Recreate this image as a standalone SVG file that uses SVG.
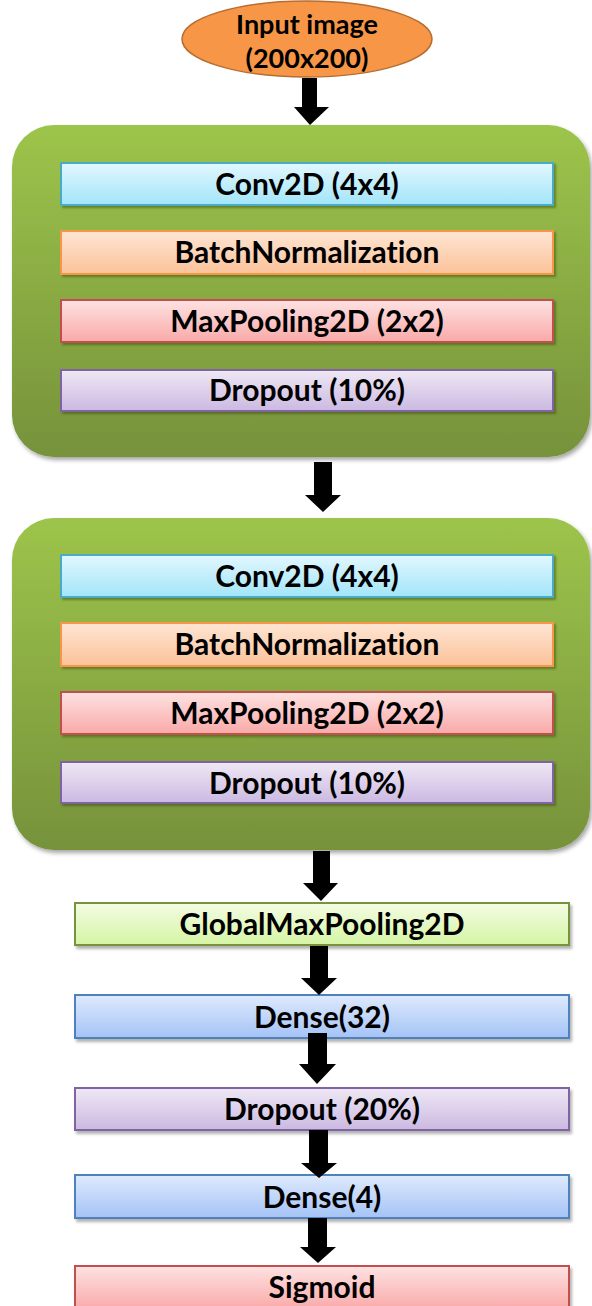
<svg xmlns="http://www.w3.org/2000/svg" width="592" height="1306" viewBox="0 0 592 1306">
<defs>
<linearGradient id="gGreen" x1="0" y1="0" x2="0" y2="1"><stop offset="0" stop-color="#9dc44b"/><stop offset="1" stop-color="#76923b"/></linearGradient>
<linearGradient id="gCyan" x1="0" y1="0" x2="0" y2="1"><stop offset="0" stop-color="#e2f7fe"/><stop offset="1" stop-color="#a2e5f9"/></linearGradient>
<linearGradient id="gOrange" x1="0" y1="0" x2="0" y2="1"><stop offset="0" stop-color="#fee5d3"/><stop offset="1" stop-color="#fcc29a"/></linearGradient>
<linearGradient id="gRed" x1="0" y1="0" x2="0" y2="1"><stop offset="0" stop-color="#fee2e2"/><stop offset="1" stop-color="#f9a9a8"/></linearGradient>
<linearGradient id="gPurple" x1="0" y1="0" x2="0" y2="1"><stop offset="0" stop-color="#efe8f5"/><stop offset="1" stop-color="#cbb9e1"/></linearGradient>
<linearGradient id="gLime" x1="0" y1="0" x2="0" y2="1"><stop offset="0" stop-color="#f3fce3"/><stop offset="1" stop-color="#d5f5a4"/></linearGradient>
<linearGradient id="gBlue" x1="0" y1="0" x2="0" y2="1"><stop offset="0" stop-color="#dfeafd"/><stop offset="1" stop-color="#a4c3f6"/></linearGradient>
<filter id="shOuter" x="-5%" y="-5%" width="112%" height="112%"><feDropShadow dx="2" dy="3" stdDeviation="2" flood-color="#000" flood-opacity="0.35"/></filter>
<filter id="shInner" x="-5%" y="-20%" width="110%" height="150%"><feDropShadow dx="2" dy="2" stdDeviation="1.2" flood-color="#2a3a10" flood-opacity="0.45"/></filter>
<filter id="shBox" x="-5%" y="-20%" width="110%" height="150%"><feDropShadow dx="2" dy="3" stdDeviation="1.5" flood-color="#000" flood-opacity="0.3"/></filter>
</defs>
<style>
text{font-family:Lato,"Liberation Sans",sans-serif;font-weight:bold;font-size:30px;fill:#000;text-anchor:middle;font-variant-ligatures:none}
.inp{font-size:27px}
.box{stroke-width:2}
.cyan{fill:url(#gCyan);stroke:#4aacc6}
.orange{fill:url(#gOrange);stroke:#f79646}
.red{fill:url(#gRed);stroke:#c0504d}
.purple{fill:url(#gPurple);stroke:#8064a2}
.lime{fill:url(#gLime);stroke:#77933c}
.blue{fill:url(#gBlue);stroke:#4f81bd}
.arrow{fill:#000}
</style>
<g id="input">
<ellipse cx="307" cy="39" rx="125" ry="38" fill="#f79646" stroke="#b66d31" stroke-width="1.5"/>
<text class="inp" x="307" y="34">Input image</text>
<text class="inp" x="307" y="68">(200x200)</text>
</g>
<g id="block1">
<rect x="12" y="125" width="578" height="332" rx="42" fill="url(#gGreen)" filter="url(#shOuter)"/>
<g id="b1_conv"><rect class="box cyan" x="61" y="163" width="492" height="42" filter="url(#shInner)"/><text x="307" y="195">Conv2D (4x4)</text></g>
<g id="b1_bn"><rect class="box orange" x="61" y="231" width="492" height="43" filter="url(#shInner)"/><text x="307" y="263">BatchNormalization</text></g>
<g id="b1_pool"><rect class="box red" x="61" y="300" width="492" height="42" filter="url(#shInner)"/><text x="307" y="332">MaxPooling2D (2x2)</text></g>
<g id="b1_drop"><rect class="box purple" x="61" y="370" width="492" height="41" filter="url(#shInner)"/><text x="307" y="401">Dropout (10%)</text></g>
</g>
<g id="block2">
<rect x="12" y="518" width="578" height="332" rx="42" fill="url(#gGreen)" filter="url(#shOuter)"/>
<g id="b2_conv"><rect class="box cyan" x="61" y="555" width="492" height="42" filter="url(#shInner)"/><text x="307" y="587">Conv2D (4x4)</text></g>
<g id="b2_bn"><rect class="box orange" x="61" y="623" width="492" height="43" filter="url(#shInner)"/><text x="307" y="655">BatchNormalization</text></g>
<g id="b2_pool"><rect class="box red" x="61" y="692" width="492" height="42" filter="url(#shInner)"/><text x="307" y="724">MaxPooling2D (2x2)</text></g>
<g id="b2_drop"><rect class="box purple" x="61" y="762" width="492" height="41" filter="url(#shInner)"/><text x="307" y="794">Dropout (10%)</text></g>
</g>
<g id="gmp"><rect class="box lime" x="75" y="903" width="494" height="42" filter="url(#shBox)"/><text x="322" y="935">GlobalMaxPooling2D</text></g>
<g id="dense32"><rect class="box blue" x="75" y="995" width="494" height="43" filter="url(#shBox)"/><text x="322" y="1028">Dense(32)</text></g>
<g id="dropout20"><rect class="box purple" x="75" y="1088" width="494" height="42" filter="url(#shBox)"/><text x="322" y="1120">Dropout (20%)</text></g>
<g id="dense4"><rect class="box blue" x="75" y="1175" width="494" height="43" filter="url(#shBox)"/><text x="322" y="1208">Dense(4)</text></g>
<g id="sigmoid"><rect class="box red" x="75" y="1266" width="494" height="44" filter="url(#shBox)"/><text x="322" y="1298">Sigmoid</text></g>
<g id="connectors">
<polygon class="arrow" points="302,78 317,78 317,107 329,107 310,125 294,107 302,107"/>
<polygon class="arrow" points="314,462 332,462 332,495 341,495 323,512 305,495 314,495"/>
<polygon class="arrow" points="313,851 330,851 330,883 338,883 321,901 303,883 313,883"/>
<polygon class="arrow" points="310,946 328,946 328,978 337,978 319,995 301,978 310,978"/>
<polygon class="arrow" points="308,1033 327,1033 327,1064 336,1064 317,1084 299,1064 308,1064"/>
<polygon class="arrow" points="309,1130 328,1130 328,1163 337,1163 319,1178 301,1163 309,1163"/>
<polygon class="arrow" points="308,1218 327,1218 327,1247 336,1247 318,1263 300,1247 308,1247"/>
</g>
</svg>
